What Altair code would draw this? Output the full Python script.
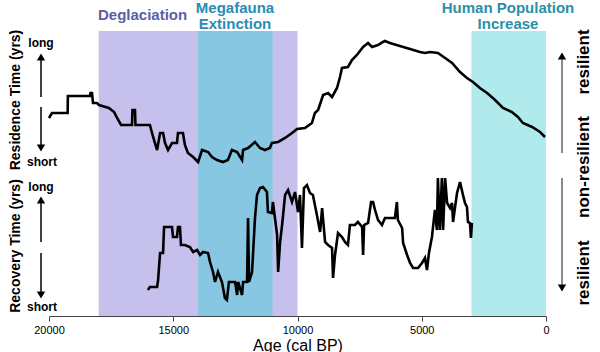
import altair as alt
import pandas as pd

# ---- data ----
band_names = ["Deglaciation", "Megafauna Extinction", "Human Population Increase"]
band_start = [18000, 14000, 3000]
band_end = [10000, 11000, 0]
band_colors = ["#c5c1ec", "#88c7e1", "#b0eaed"]
x_ticks = [20000, 15000, 10000, 5000, 0]

# Residence time (relative units, higher = longer)
res_age = [20000, 19880, 19250, 19240, 18350, 18330, 18270, 18230, 18070, 17990,
           17590, 17380, 17260, 17100, 16660, 16640, 16540, 16520, 15940, 15810,
           15650, 15530, 15410, 15330, 15210, 15050, 14850, 14810, 14610, 14530,
           14410, 14200, 14000, 13840, 13600, 13440, 13240, 13000, 12800, 12640,
           12430, 12230, 12190, 11990, 11710, 11510, 11310, 11110, 11030, 10780,
           10500, 10220, 10020, 9700, 9420, 9300, 9170, 8970, 8770, 8610,
           8410, 8290, 8210, 7970, 7810, 7610, 7360, 7160, 7000, 6760,
           6560, 6480, 6280, 5880, 5470, 5070, 4870, 4670, 4350, 4060,
           3780, 3460, 3180, 2940, 2660, 2370, 2050, 1730, 1370, 1130,
           930, 560, 240, 40]
res_val = [52, 57, 57, 74, 74, 77, 77, 67, 67, 65,
           62, 58, 52, 45, 45, 60, 60, 45, 45, 33,
           20, 37, 37, 27, 20, 27, 27, 37, 37, 25,
           17, 13, 8, 20, 18, 13, 10, 8, 10, 20,
           18, 10, 20, 22, 28, 22, 20, 22, 27, 28,
           32, 37, 41, 42, 47, 57, 60, 75, 77, 73,
           82, 93, 102, 103, 110, 115, 123, 127, 123, 125,
           128, 129, 127, 124, 121, 118, 117, 118, 117, 112,
           107, 98, 92, 88, 82, 77, 70, 62, 58, 53,
           47, 43, 38, 33]

# Recovery time (relative units, higher = longer)
rec_age = [16020, 15940, 15650, 15610, 15530, 15410, 15370, 15050, 15010, 14850,
           14810, 14730, 14690, 14530, 14330, 14200, 14040, 13920, 13800, 13600,
           13520, 13400, 13320, 13200, 13040, 12920, 12840, 12760, 12510, 12430,
           12390, 12230, 12190, 12030, 11990, 11950, 11830, 11710, 11630, 11510,
           11390, 11230, 11190, 11030, 10990, 10820, 10780, 10700, 10620, 10500,
           10380, 10220, 10100, 9980, 9900, 9820, 9740, 9620, 9500, 9380,
           9220, 9090, 9010, 8890, 8770, 8610, 8570, 8490, 8370, 8210,
           8090, 7970, 7890, 7690, 7570, 7400, 7360, 7320, 7160, 7040,
           6960, 6880, 6760, 6600, 6480, 6080, 6000, 5960, 5790, 5750,
           5590, 5470, 5350, 5150, 4990, 4870, 4790, 4710, 4590, 4470,
           4390, 4350, 4270, 4190, 4140, 4060, 3980, 3860, 3780, 3740,
           3660, 3580, 3460, 3340, 3260, 3180, 3140, 3060, 3020, 2980]
rec_val = [26, 29, 29, 36, 63, 63, 89, 89, 79, 79,
           89, 89, 71, 71, 69, 64, 66, 61, 64, 63,
           54, 44, 34, 44, 34, 18, 16, 34, 34, 21,
           34, 21, 34, 34, 98, 34, 44, 98, 121, 128,
           129, 124, 104, 103, 114, 81, 44, 74, 91, 121,
           126, 114, 124, 104, 121, 68, 128, 131, 123, 121,
           101, 84, 108, 74, 71, 68, 38, 61, 83, 79,
           74, 71, 91, 91, 94, 89, 61, 91, 93, 114,
           114, 106, 96, 91, 98, 98, 114, 96, 88, 73,
           61, 53, 48, 48, 53, 58, 46, 63, 79, 106,
           86, 138, 86, 138, 86, 138, 113, 108, 113, 94,
           109, 123, 134, 121, 113, 109, 94, 93, 78, 93]

W, H = 497, 285
FONT = "Liberation Sans"

xscale = alt.Scale(domain=[20000, 0], nice=False, zero=False)
xaxis = alt.Axis(values=x_ticks, title="Age (cal BP)", grid=False, format="d",
                 labelFlush=False, labelFontSize=11, labelColor="black",
                 titleFontSize=16, titleFontWeight="normal", titleColor="black",
                 titlePadding=2, tickSize=5, labelPadding=3,
                 domainColor="#444", tickColor="#444", labelFont=FONT, titleFont=FONT)

bands_df = pd.DataFrame({"name": band_names, "start": band_start, "end": band_end})
bands = alt.Chart(bands_df).mark_rect().encode(
    x=alt.X("start:Q", scale=xscale, axis=xaxis),
    x2="end:Q",
    y=alt.value(0), y2=alt.value(H),
    color=alt.Color("name:N", scale=alt.Scale(domain=band_names, range=band_colors), legend=None),
)

top_df = pd.DataFrame({"age": res_age, "v": res_val, "i": list(range(len(res_age)))})
top = alt.Chart(top_df).mark_line(color="black", strokeWidth=2.6).encode(
    x=alt.X("age:Q", scale=xscale, axis=xaxis),
    y=alt.Y("v:Q", scale=alt.Scale(domain=[0, 139], range=[139, 0]), axis=None),
    order="i:Q",
)

bot_df = pd.DataFrame({"age": rec_age, "v": rec_val, "i": list(range(len(rec_age)))})
bot = alt.Chart(bot_df).mark_line(color="black", strokeWidth=2.6).encode(
    x=alt.X("age:Q", scale=xscale, axis=xaxis),
    y=alt.Y("v:Q", scale=alt.Scale(domain=[0, 146], range=[285, 139]), axis=None),
    order="i:Q",
)

one = alt.Data(values=[{"a": 1}])


def label(text, x, y, size=14, color="black", weight="bold", angle=0, align="center"):
    kw = dict(text=text, fontSize=size, color=color, fontWeight=weight, font=FONT,
              align=align, baseline="middle")
    if angle:
        kw["angle"] = angle
    return alt.Chart(one).mark_text(**kw).encode(x=alt.value(x), y=alt.value(y))


def rule(x, y1, y2, color="black", w=1.5):
    return alt.Chart(one).mark_rule(color=color, strokeWidth=w).encode(
        x=alt.value(x), y=alt.value(y1), y2=alt.value(y2))


def head(x, y, shape):
    return alt.Chart(one).mark_point(shape=shape, filled=True, color="black",
                                     opacity=1, size=70, strokeWidth=0).encode(
        x=alt.value(x), y=alt.value(y))


texts = [
    label("Deglaciation", 49, -16, size=15, color="#5b5ea6", align="left"),
    label("Megafauna", 186, -23, size=15, color="#2a8cb3"),
    label("Extinction", 186, -7, size=15, color="#2a8cb3"),
    label("Human Population", 459, -23, size=15, color="#2a8fa8"),
    label("Increase", 459, -7, size=15, color="#2a8fa8"),
    label("Residence Time (yrs)", -33, 69, size=14, angle=270),
    label("Recovery Time (yrs)", -33, 215, size=14, angle=270),
    label("long", -8, 12, size=12),
    label("short", -7, 131, size=12),
    label("long", -8, 156, size=12),
    label("short", -7, 276, size=12),
    label("resilient", 535, 31, size=17, angle=270),
    label("non-resilient", 535, 136, size=17, angle=270),
    label("resilient", 535, 242, size=17, angle=270),
]

arrows = [
    rule(-8, 66, 28), head(-8, 26, "triangle-up"),
    rule(-8, 76, 114), head(-8, 117, "triangle-down"),
    rule(-8, 211, 172), head(-8, 169, "triangle-up"),
    rule(-8, 222, 261), head(-8, 264, "triangle-down"),
    rule(513, 122, 28, color="#666"), head(513, 25, "triangle-up"),
    rule(513, 147, 254, color="#666"), head(513, 257, "triangle-down"),
]

chart = alt.layer(bands, top, bot, *texts, *arrows).resolve_scale(
    y="independent"
).properties(
    width=W, height=H,
    autosize=alt.AutoSizeParams(type="none"),
    padding={"left": 49, "top": 31, "right": 54, "bottom": 36},
).configure_view(stroke=None)

chart.save("out.html", embed_options={"renderer": "svg", "actions": False})
